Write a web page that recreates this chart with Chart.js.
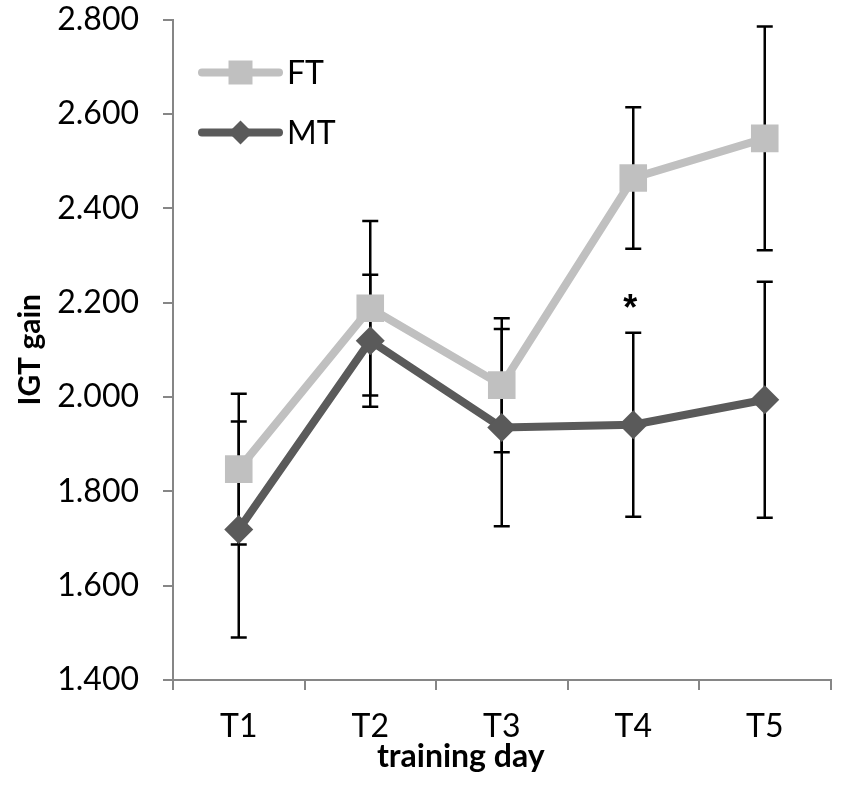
<!DOCTYPE html>
<html>
<head>
<meta charset="utf-8">
<script src="https://cdn.jsdelivr.net/npm/chart.js@4.4.1/dist/chart.umd.min.js"></script>
<style>
  html, body { margin: 0; padding: 0; background: #fff; }
  #igtChart { display: block; }
</style>
</head>
<body>
<canvas id="igtChart" width="850" height="787"></canvas>
<script>
var days = ["T1", "T2", "T3", "T4", "T5"];
var ftMeans = [1.847, 2.188, 2.025, 2.464, 2.548];
var ftErrors = [0.160, 0.185, 0.142, 0.150, 0.237];
var mtMeans = [1.719, 2.119, 1.935, 1.941, 1.994];
var mtErrors = [0.229, 0.140, 0.209, 0.195, 0.250];
var sigMarks = ["", "", "", "*", ""];
var yMin = 1.4, yMax = 2.8, yStep = 0.2;

var FONT = "Lato, 'Open Sans', sans-serif";
var AXIS_GREY = "#868686";

// ——— error bars, drawn under the lines ———
var errorBarPlugin = {
  id: "errorBars",
  beforeDatasetsDraw: function (chart) {
    var ctx = chart.ctx;
    var xs = chart.scales.x, ys = chart.scales.y;
    ctx.save();
    ctx.strokeStyle = "#000";
    ctx.lineWidth = 2.5;
    chart.data.datasets.forEach(function (ds) {
      if (!ds.errors) return;
      ds.data.forEach(function (v, i) {
        var x = xs.getPixelForValue(i);
        var top = ys.getPixelForValue(v + ds.errors[i]);
        var bot = ys.getPixelForValue(v - ds.errors[i]);
        ctx.beginPath();
        ctx.moveTo(x, top); ctx.lineTo(x, bot);
        ctx.moveTo(x - 8, top); ctx.lineTo(x + 8, top);
        ctx.moveTo(x - 8, bot); ctx.lineTo(x + 8, bot);
        ctx.stroke();
      });
    });
    ctx.restore();
  },
  afterDatasetsDraw: function (chart) {
    // significance star above the upper MT whisker
    var ctx = chart.ctx;
    var xs = chart.scales.x, ys = chart.scales.y;
    ctx.save();
    ctx.fillStyle = "#000";
    ctx.font = "bold 36px 'Liberation Sans', Arial, sans-serif";
    ctx.textAlign = "center";
    ctx.textBaseline = "alphabetic";
    sigMarks.forEach(function (m, i) {
      if (!m) return;
      var y = ys.getPixelForValue(mtMeans[i] + mtErrors[i]) - 13;
      ctx.fillText(m, xs.getPixelForValue(i) - 3, y);
    });
    ctx.restore();
  }
};

// ——— legend inside the plot, top left ———
var innerLegendPlugin = {
  id: "innerLegend",
  afterDraw: function (chart) {
    var ctx = chart.ctx;
    var area = chart.chartArea;
    ctx.save();
    chart.data.datasets.forEach(function (ds, i) {
      var y = area.top + 53 + i * 60;
      var x0 = area.left + 29, x1 = area.left + 106, xm = (x0 + x1) / 2;
      ctx.strokeStyle = ds.borderColor;
      ctx.lineWidth = 8;
      ctx.lineCap = "round";
      ctx.beginPath(); ctx.moveTo(x0, y); ctx.lineTo(x1, y); ctx.stroke();
      ctx.fillStyle = ds.pointBackgroundColor;
      ctx.beginPath();
      if (ds.pointStyle === "rect") {
        ctx.rect(xm - 12, y - 12, 24, 24);
      } else {
        ctx.moveTo(xm - 12, y); ctx.lineTo(xm, y - 12);
        ctx.lineTo(xm + 12, y); ctx.lineTo(xm, y + 12);
        ctx.closePath();
      }
      ctx.fill();
      ctx.fillStyle = "#000";
      ctx.font = "32px " + FONT;
      ctx.textAlign = "left";
      ctx.textBaseline = "middle";
      ctx.fillText(ds.label, x1 + 8, y + 1);
    });
    ctx.restore();
  }
};

// ——— x-axis title, sits left of centre in the original ———
var xTitlePlugin = {
  id: "xTitle",
  afterDraw: function (chart) {
    var ctx = chart.ctx;
    var area = chart.chartArea;
    ctx.save();
    ctx.fillStyle = "#000";
    ctx.font = "bold 32px " + FONT;
    ctx.textAlign = "center";
    ctx.textBaseline = "alphabetic";
    ctx.fillText("training day", (area.left + area.right) / 2 - 41, chart.height - 20);
    ctx.restore();
  }
};

new Chart(document.getElementById("igtChart"), {
  type: "line",
  data: {
    labels: days,
    datasets: [{
      label: "FT",
      data: ftMeans,
      errors: ftErrors,
      borderColor: "#c0c0c0",
      backgroundColor: "#c0c0c0",
      pointBackgroundColor: "#c0c0c0",
      pointBorderColor: "#c0c0c0",
      pointStyle: "rect",
      pointRadius: 19.5,
      pointBorderWidth: 0,
      borderWidth: 8,
      tension: 0,
      fill: false,
      order: 1
    }, {
      label: "MT",
      data: mtMeans,
      errors: mtErrors,
      borderColor: "#5a5a5a",
      backgroundColor: "#5a5a5a",
      pointBackgroundColor: "#5a5a5a",
      pointBorderColor: "#5a5a5a",
      pointStyle: "rectRot",
      pointRadius: 14.5,
      pointBorderWidth: 0,
      borderWidth: 8,
      tension: 0,
      fill: false,
      order: 0
    }]
  },
  options: {
    responsive: false,
    animation: false,
    devicePixelRatio: 1,
    layout: { padding: { top: 18, right: 9, left: 0, bottom: 0 } },
    plugins: {
      legend: { display: false },
      tooltip: { enabled: false }
    },
    scales: {
      x: {
        type: "category",
        offset: true,
        grid: { display: true, drawOnChartArea: false, drawTicks: true, tickLength: 10, color: AXIS_GREY, lineWidth: 2, offset: true },
        border: { display: true, color: AXIS_GREY, width: 2 },
        ticks: { color: "#000", font: { family: FONT, size: 32 }, padding: 17 },
        afterFit: function (s) { s.height = 107; s.paddingLeft = 0; s.paddingRight = 0; }
      },
      y: {
        min: yMin,
        max: yMax,
        ticks: {
          stepSize: yStep,
          color: "#000",
          font: { family: FONT, size: 32 },
          padding: 24,
          callback: function (v) { return Number(v).toFixed(3); }
        },
        grid: { display: true, drawOnChartArea: false, drawTicks: true, tickLength: 10, color: AXIS_GREY, lineWidth: 2 },
        border: { display: true, color: AXIS_GREY, width: 2 },
        title: { display: true, text: "IGT gain", color: "#000", font: { family: FONT, size: 30, weight: "bold" }, padding: { top: 12, bottom: 0 } },
        afterFit: function (s) { s.width = 173; s.paddingTop = 0; s.paddingBottom = 0; }
      }
    }
  },
  plugins: [errorBarPlugin, innerLegendPlugin, xTitlePlugin]
});
</script>
</body>
</html>
